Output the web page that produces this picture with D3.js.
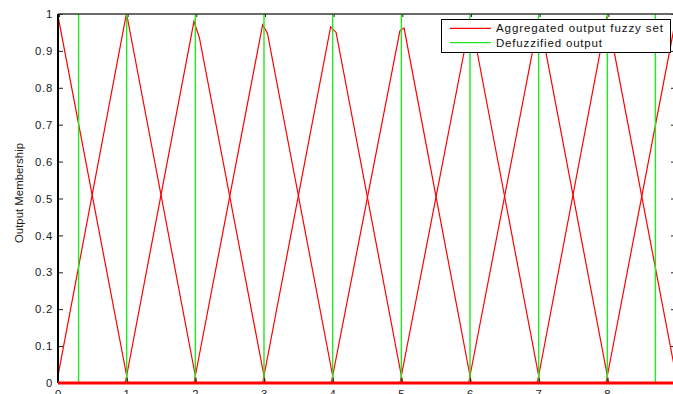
<!DOCTYPE html>
<html>
<head>
<meta charset="utf-8">
<script src="https://cdn.jsdelivr.net/npm/d3@7/dist/d3.min.js"></script>
<style>
  html, body { margin: 0; padding: 0; background: #fff; }
  svg { display: block; font-family: "Liberation Sans", Arial, Helvetica, sans-serif; }
  .axis text { font-size: 11.3px; fill: #1a1a1a; letter-spacing: 0.8px; }
</style>
</head>
<body>
<svg id="chart" width="673" height="394"></svg>
<script>
// membership functions (one triangle per centre)
const mfLeftFoot  = [-1.02, -0.02, 0.98, 1.98, 2.98, 3.98, 4.98, 5.98, 6.98, 7.98];
const mfPeak1X    = [-0.01, 0.99, 1.98, 2.98, 3.97, 4.98, 5.98, 6.98, 7.99, 8.98];
const mfPeak1Y    = [0.99, 0.995, 0.98, 0.971, 0.965, 0.955, 0.96, 0.965, 0.99, 0.97];
const mfPeak2X    = [0.01, 1.01, 2.06, 3.05, 4.05, 5.04, 6.04, 7.04, 8.01, 9.04];
const mfPeak2Y    = [0.985, 0.99, 0.935, 0.948, 0.95, 0.962, 0.96, 0.96, 0.985, 0.96];
const mfRightFoot = [1.02, 2.02, 3.02, 4.02, 5.02, 6.02, 7.02, 8.02, 9.02, 10.02];

// defuzzified outputs
const defuzz = [0.3, 1, 2, 3, 4, 5, 6, 7, 8, 8.7];

const xTicks = [0, 1, 2, 3, 4, 5, 6, 7, 8];
const xTopTicks = [0, 1, 2, 3, 4, 5, 6, 7, 8, 9];
const yTicks = [0, 0.1, 0.2, 0.3, 0.4, 0.5, 0.6, 0.7, 0.8, 0.9, 1];
const legendLabels = ['Aggregated output fuzzy set', 'Defuzzified output'];
const seriesColors = ['#ff0000', '#22e822'];

const svg = d3.select('#chart');
const plotLeft = 58, plotRight = 676, plotTop = 14, plotBottom = 383;

const x = d3.scaleLinear().domain([0, 9]).range([plotLeft, plotRight]);
const y = d3.scaleLinear().domain([0, 1]).range([plotBottom, plotTop]);

svg.append('defs').append('clipPath').attr('id', 'plot-clip')
  .append('rect')
  .attr('x', plotLeft).attr('y', plotTop - 2)
  .attr('width', plotRight - plotLeft).attr('height', plotBottom - plotTop + 4);

const plot = svg.append('g').attr('clip-path', 'url(#plot-clip)');

// red triangles
const line = d3.line().x(d => x(d[0])).y(d => y(d[1]));
const triangles = mfLeftFoot.map((lf, i) => [
  [lf, 0],
  [mfPeak1X[i], mfPeak1Y[i]],
  [mfPeak2X[i], mfPeak2Y[i]],
  [mfRightFoot[i], 0]
]);

plot.selectAll('path.mf')
  .data(triangles)
  .enter()
  .append('path')
  .attr('class', 'mf')
  .attr('d', line)
  .attr('fill', 'none')
  .attr('stroke', seriesColors[0])
  .attr('stroke-width', 1.2);

// axes
const yLeft = d3.axisLeft(y).tickValues(yTicks).tickSizeInner(-5).tickSizeOuter(0)
  .tickPadding(5).tickFormat(d => d3.format('~g')(d));
const gLeft = svg.append('g').attr('class', 'axis')
  .attr('transform', `translate(${plotLeft},0)`).call(yLeft);
gLeft.select('.domain').remove();
gLeft.selectAll('line').attr('stroke', '#222');

const yRight = d3.axisRight(y).tickValues(yTicks).tickSizeInner(-5).tickSizeOuter(0).tickFormat('');
const gRight = svg.append('g').attr('class', 'axis')
  .attr('transform', `translate(${plotRight},0)`).call(yRight);
gRight.select('.domain').remove();
gRight.selectAll('line').attr('stroke', '#222');

const xTop = d3.axisTop(x).tickValues(xTopTicks).tickSizeInner(-3).tickSizeOuter(0).tickFormat('');
const gTop = svg.append('g').attr('class', 'axis')
  .attr('transform', `translate(0,${plotTop})`).call(xTop);
gTop.select('.domain').remove();
gTop.selectAll('line').attr('stroke', '#222').attr('transform', 'translate(1,0)');

const xBottom = d3.axisBottom(x).tickValues(xTicks).tickSizeInner(-5).tickSizeOuter(0).tickPadding(7);
const gBottom = svg.append('g').attr('class', 'axis')
  .attr('transform', `translate(0,${plotBottom})`).call(xBottom);
gBottom.select('.domain').remove();
gBottom.selectAll('line').attr('stroke', '#222');

// box lines
svg.append('line')
  .attr('x1', plotLeft).attr('x2', plotRight).attr('y1', plotTop).attr('y2', plotTop)
  .attr('stroke', '#3a3a3a').attr('stroke-width', 1.6);
svg.append('line')
  .attr('x1', plotLeft).attr('x2', plotLeft).attr('y1', plotTop).attr('y2', plotBottom)
  .attr('stroke', '#000').attr('stroke-width', 2);

// thick red baseline of the aggregated set
svg.append('line')
  .attr('x1', x(0)).attr('x2', x(9)).attr('y1', y(0)).attr('y2', y(0))
  .attr('stroke', seriesColors[0]).attr('stroke-width', 3);

// green defuzzified lines
plot.selectAll('line.defuzz')
  .data(defuzz)
  .enter()
  .append('line')
  .attr('class', 'defuzz')
  .attr('x1', d => x(d)).attr('x2', d => x(d))
  .attr('y1', y(0)).attr('y2', y(1))
  .attr('stroke', seriesColors[1])
  .attr('stroke-width', 1.4);

// y label
svg.append('text')
  .attr('transform', 'translate(23,193) rotate(-90)')
  .attr('text-anchor', 'middle')
  .attr('textLength', 100)
  .attr('lengthAdjust', 'spacingAndGlyphs')
  .style('font-size', '11.2px')
  .style('fill', '#1a1a1a')
  .text('Output Membership');

// legend
const legend = svg.append('g');
legend.append('rect')
  .attr('x', 441.5).attr('y', 19.5)
  .attr('width', 229).attr('height', 33)
  .attr('fill', '#fff').attr('stroke', '#000').attr('stroke-width', 1);

const legendWidths = [167, 106];
legendLabels.forEach((label, i) => {
  const ly = 28.3 + i * 14.4;
  legend.append('line')
    .attr('x1', 450).attr('x2', 491).attr('y1', ly).attr('y2', ly)
    .attr('stroke', seriesColors[i]).attr('stroke-width', 1.2);
  legend.append('text')
    .attr('x', 496).attr('y', ly + 4)
    .attr('textLength', legendWidths[i])
    .attr('lengthAdjust', 'spacing')
    .style('font-size', '11.5px')
    .style('fill', '#111')
    .text(label);
});
</script>
</body>
</html>
